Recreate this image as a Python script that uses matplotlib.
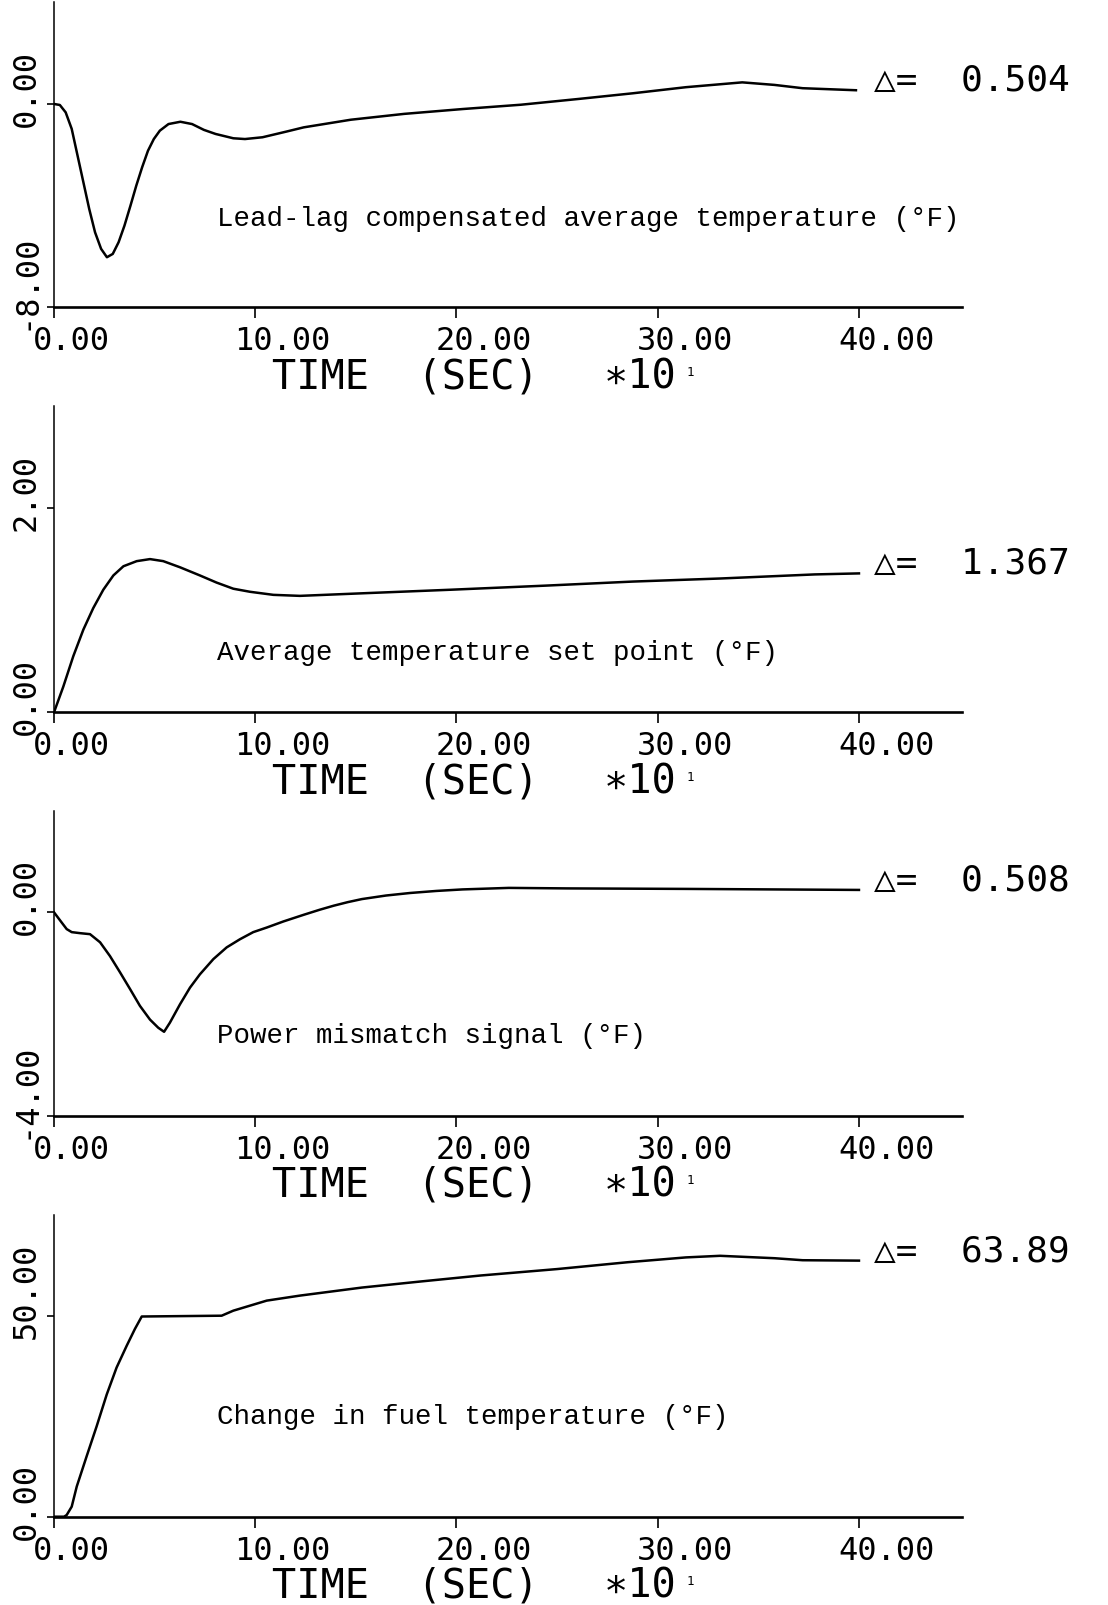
import matplotlib
matplotlib.use("Agg")
import matplotlib.pyplot as plt
from matplotlib.transforms import offset_copy, blended_transform_factory

# ---------------- data (time in units of 10 s) ----------------
t_lead = [0, 0.29, 0.58, 0.88, 1.17, 1.46, 1.75, 2.04, 2.34, 2.63, 2.92, 3.21, 3.50,
          3.80, 4.09, 4.38, 4.67, 4.96, 5.26, 5.69, 6.28, 6.86, 7.45, 8.03, 8.91, 9.49,
          10.36, 11.53, 12.41, 14.75, 17.4, 20.3, 23.2, 26.1, 28.76, 31.4, 34.2, 35.8,
          37.2, 39.85]
v_lead = [0, -0.04, -0.33, -0.98, -2.03, -3.08, -4.13, -5.05, -5.70, -6.03, -5.90, -5.44,
          -4.79, -4.00, -3.21, -2.49, -1.84, -1.38, -1.05, -0.79, -0.70, -0.79, -1.02,
          -1.18, -1.35, -1.38, -1.31, -1.09, -0.92, -0.62, -0.39, -0.20, -0.03, 0.20,
          0.42, 0.66, 0.85, 0.75, 0.62, 0.54]

t_set = [0, 0.46, 0.96, 1.46, 1.95, 2.45, 2.95, 3.45, 4.11, 4.77, 5.43, 6.26, 7.25, 8.08,
         8.91, 9.74, 10.9, 12.22, 15.3, 19.7, 24.4, 28.76, 33.1, 37.8, 40.0]
v_set = [0, 0.25, 0.55, 0.81, 1.02, 1.20, 1.34, 1.43, 1.48, 1.50, 1.48, 1.42, 1.34, 1.27,
         1.21, 1.18, 1.15, 1.14, 1.165, 1.20, 1.24, 1.28, 1.31, 1.35, 1.36]

t_pm = [0, 0.38, 0.63, 0.88, 1.29, 1.79, 2.29, 2.78, 3.28, 3.78, 4.27, 4.77, 5.18, 5.47,
        5.76, 6.26, 6.76, 7.25, 7.92, 8.58, 9.24, 9.9, 10.57, 11.4, 12.4, 13.2, 13.9,
        14.6, 15.3, 16.5, 17.7, 19.0, 20.3, 22.6, 25.5, 31.4, 40.0]
v_pm = [0, -0.20, -0.33, -0.39, -0.41, -0.43, -0.59, -0.86, -1.18, -1.51, -1.84, -2.11,
        -2.27, -2.35, -2.17, -1.81, -1.48, -1.22, -0.92, -0.69, -0.53, -0.39, -0.30,
        -0.18, -0.05, 0.05, 0.13, 0.20, 0.26, 0.33, 0.38, 0.42, 0.45, 0.48, 0.47, 0.46,
        0.44]

t_fuel = [0, 0.5, 0.63, 0.88, 1.13, 1.62, 2.12, 2.62, 3.11, 3.61, 4.02, 4.36, 8.33, 8.91,
          9.74, 10.57, 12.22, 15.3, 18.2, 21.2, 25.0, 28.5, 31.4, 33.1, 35.8, 37.2, 40.0]
v_fuel = [0, 0, 0.42, 2.5, 7.5, 15.0, 22.5, 30.4, 37.1, 42.5, 46.7, 49.8, 50.0, 51.25,
          52.5, 53.75, 55.0, 57.0, 58.5, 60.0, 61.6, 63.3, 64.5, 64.9, 64.3, 63.8, 63.7]

panel_titles = ["Lead-lag compensated average temperature (°F)",
                "Average temperature set point (°F)",
                "Power mismatch signal (°F)",
                "Change in fuel temperature (°F)"]
delta_labels = ["0.504", "1.367", "0.508", "63.89"]
y_limits = [(-8, 4), (0, 3), (-4, 2), (0, 75)]
y_ticks = [[-8, 0], [0, 2], [-4, 0], [0, 50]]
y_tick_labels = [["-8.00", "0.00"], ["0.00", "2.00"], ["-4.00", "0.00"], ["0.00", "50.00"]]
x_ticks = [0, 10, 20, 30, 40]
x_tick_labels = ["0.00", "10.00", "20.00", "30.00", "40.00"]
title_y = [-4.49, 0.59, -2.41, 25.05]

series = [(t_lead, v_lead), (t_set, v_set), (t_pm, v_pm), (t_fuel, v_fuel)]

# ---------------- layout (pixels of the 1108x1606 canvas) ----------------
W, H = 1108, 1606
fig = plt.figure(figsize=(W / 100, H / 100), dpi=100)
fig.patch.set_facecolor("white")

left_px, width_px = 54, 907.6
boxes = [(308.3, 305.0), (713.3, 306.4), (1116.7, 305.1), (1517.7, 301.5)]  # bottom, height

MONO = ["DejaVu Sans Mono", "DejaVu Sans"]
TYPE = ["Liberation Mono", "DejaVu Sans Mono"]

for i, ((bot, hgt), (tx, ty)) in enumerate(zip(boxes, series)):
    ax = fig.add_axes([left_px / W, 1 - bot / H, width_px / W, hgt / H])
    ax.set_xlim(0, 45.1)
    ax.set_ylim(*y_limits[i])
    ax.plot(tx, ty, color="black", lw=1.8, solid_joinstyle="round")

    for s in ("top", "right"):
        ax.spines[s].set_visible(False)
    ax.spines["left"].set_linewidth(1.1)
    ax.spines["bottom"].set_linewidth(1.9)

    ax.set_xticks(x_ticks)
    ax.set_yticks(y_ticks[i])
    ax.set_xticklabels([])
    ax.set_yticklabels([])
    ax.tick_params(axis="x", direction="out", length=8, width=1.2, color="black")
    ax.tick_params(axis="y", direction="out", length=5, width=1.2, color="black")

    bx = blended_transform_factory(ax.transData, ax.transAxes)
    by = blended_transform_factory(ax.transAxes, ax.transData)

    # x tick labels
    tr = offset_copy(bx, fig=fig, x=-21, y=-18, units="dots")
    for xv, lab in zip(x_ticks, x_tick_labels):
        ax.text(xv, 0, lab, transform=tr, ha="left", va="top",
                family=MONO, fontsize=23, color="black")

    # y tick labels (rotated)
    tr = offset_copy(by, fig=fig, x=-28, y=-22, units="dots")
    for yv, lab in zip(y_ticks[i], y_tick_labels[i]):
        ax.text(0, yv, lab, transform=tr, rotation=90, ha="center", va="bottom",
                family=MONO, fontsize=23, color="black")

    # x axis label
    tr = offset_copy(bx, fig=fig, x=0, y=-69, units="dots")
    ax.text(10.85, 0, "TIME  (SEC)", transform=tr, ha="left", va="center",
            family=MONO, fontsize=29, color="black")
    ax.text(27.3, 0, "∗10", transform=tr, ha="left", va="center",
            family=MONO, fontsize=29, color="black")
    tr2 = offset_copy(bx, fig=fig, x=0, y=-64, units="dots")
    ax.text(31.45, 0, "1", transform=tr2, ha="left", va="center",
            family=MONO, fontsize=9, color="black")

    # panel description
    ax.text(8.1, title_y[i], panel_titles[i], ha="left", va="center",
            family=TYPE, fontsize=19.8, color="black")

    # delta annotation at end of curve
    ax.text(40.75, ty[-1], "△=  " + delta_labels[i], ha="left", va="baseline",
            family=MONO, fontsize=26, color="black")

fig.savefig("out.png", dpi=100, facecolor="white")
